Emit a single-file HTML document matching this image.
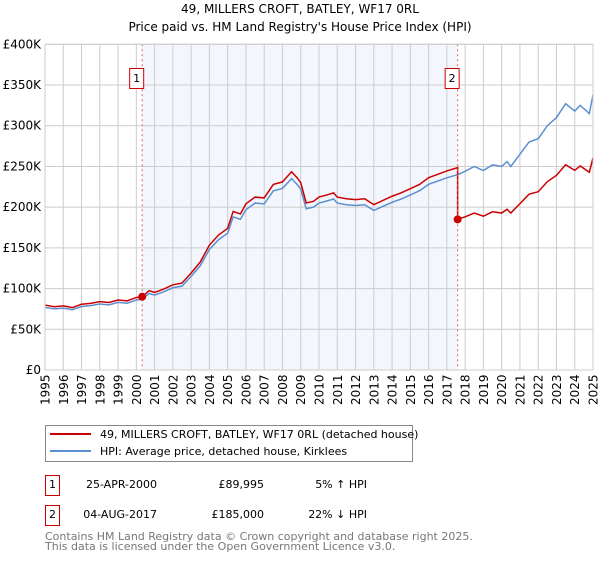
<!DOCTYPE html>
<html><head><meta charset="utf-8"><style>
body{margin:0;background:#fff;width:600px;height:560px;overflow:hidden}
text{font-family:"DejaVu Sans","Liberation Sans",sans-serif}
</style></head><body>
<svg id="chart" width="600" height="560" xmlns="http://www.w3.org/2000/svg">
<text x="300" y="13" text-anchor="middle" font-size="12">49, MILLERS CROFT, BATLEY, WF17 0RL</text>
<text x="300" y="31" text-anchor="middle" font-size="12">Price paid vs. HM Land Registry's House Price Index (HPI)</text>
<g id="plot"></g>
<g>
<rect x="45.5" y="425.5" width="367" height="36" fill="#fff" stroke="#888"/>
<line x1="50" y1="434" x2="91" y2="434" stroke="#cc0000" stroke-width="2"/>
<text x="100" y="438" font-size="11">49, MILLERS CROFT, BATLEY, WF17 0RL (detached house)</text>
<line x1="50" y1="451" x2="91" y2="451" stroke="#5b8fd0" stroke-width="2"/>
<text x="100" y="455" font-size="11">HPI: Average price, detached house, Kirklees</text>
</g>
<g font-size="11">
<rect x="45.5" y="475.5" width="14" height="20" fill="#fff" stroke="#cc0000"/>
<text x="52.5" y="488" text-anchor="middle">1</text>
<text x="157" y="488" text-anchor="end">25-APR-2000</text>
<text x="264" y="488" text-anchor="end">£89,995</text>
<text x="367" y="488" text-anchor="end">5% ↑ HPI</text>
<rect x="45.5" y="505.5" width="14" height="20" fill="#fff" stroke="#cc0000"/>
<text x="52.5" y="518" text-anchor="middle">2</text>
<text x="157" y="518" text-anchor="end">04-AUG-2017</text>
<text x="264" y="518" text-anchor="end">£185,000</text>
<text x="367" y="518" text-anchor="end">22% ↓ HPI</text>
</g>
<text x="45" y="540" font-size="11" fill="#777">Contains HM Land Registry data © Crown copyright and database right 2025.</text>
<text x="45" y="550" font-size="11" fill="#777">This data is licensed under the Open Government Licence v3.0.</text>
</svg>
<script>
const yTicks=[0,50000,100000,150000,200000,250000,300000,350000,400000];
const yTickLabels=["£0","£50K","£100K","£150K","£200K","£250K","£300K","£350K","£400K"];
const xYears=[1995,1996,1997,1998,1999,2000,2001,2002,2003,2004,2005,2006,2007,2008,2009,2010,2011,2012,2013,2014,2015,2016,2017,2018,2019,2020,2021,2022,2023,2024,2025];
const hpiDates=[1995,1995.5,1996,1996.5,1997,1997.5,1998,1998.5,1999,1999.5,2000,2000.3,2000.7,2001,2001.5,2002,2002.5,2003,2003.5,2004,2004.5,2005,2005.3,2005.7,2006,2006.5,2007,2007.5,2008,2008.5,2008.8,2009,2009.3,2009.7,2010,2010.5,2010.8,2011,2011.5,2012,2012.5,2013,2013.2,2013.6,2014,2014.5,2015,2015.5,2016,2016.5,2017,2017.6,2018,2018.5,2019,2019.5,2020,2020.3,2020.5,2021,2021.5,2022,2022.5,2023,2023.5,2024,2024.3,2024.8,2025];
const hpiValues=[77000,75000,76000,74000,78000,79000,81000,80000,83000,82000,86000,86500,94000,92000,96000,101000,103000,115000,128000,148000,160000,168000,188000,185000,197000,205000,204000,220000,223000,235000,228000,222000,198000,200000,205000,208000,210000,205000,203000,202000,203000,196000,198000,202000,206000,210000,215000,220000,228000,232000,236000,240000,244000,250000,245000,252000,250000,256000,250000,265000,280000,284000,300000,310000,327000,318000,325000,315000,338000,342000];
const saleDates=[2000.32,2017.59];
const salePrices=[89995,185000];
const X0=45,X1=593,Y0=370,Y1=44.3;
const x=d=>X0+(d-1995)/(2025-1995)*(X1-X0);
const y=v=>Y0-v/400000*(Y0-Y1);
const NS="http://www.w3.org/2000/svg";
const plot=document.getElementById('plot');
function mk(tag,attrs){const e=document.createElementNS(NS,tag);for(const k in attrs)e.setAttribute(k,attrs[k]);plot.appendChild(e);return e;}
let e=mk('rect',{x:x(saleDates[0]),y:Y1,width:x(saleDates[1])-x(saleDates[0]),height:Y0-Y1,fill:'#eef3fc',opacity:0.7});


xYears.forEach((yr,i)=>{
 let g=mk('line',{x1:x(yr),x2:x(yr),y1:Y1,y2:Y0,stroke:'#ccc','stroke-width':1});
 
 
 let t=mk('text',{transform:`translate(${x(yr)+4.5},${Y0+35}) rotate(-90)`,'font-size':12});
 t.textContent=yr;
 
 
});
yTicks.forEach((v,i)=>{
 let g=mk('line',{x1:X0,x2:X1,y1:y(v),y2:y(v),stroke:'#ccc','stroke-width':1});
 
 
 let t=mk('text',{x:X0-4,y:y(v)+4,'text-anchor':'end','font-size':12});
 t.textContent=yTickLabels[i];
 
 
});
function hpiAt(d){for(let i=1;i<hpiDates.length;i++){if(d<=hpiDates[i]){const f=(d-hpiDates[i-1])/(hpiDates[i]-hpiDates[i-1]);return hpiValues[i-1]+f*(hpiValues[i]-hpiValues[i-1]);}}return hpiValues[hpiValues.length-1];}
const r0=salePrices[0]/hpiAt(saleDates[0]),r1=salePrices[1]/hpiAt(saleDates[1]);
let bp=hpiDates.map((d,i)=>`${x(d)},${y(hpiValues[i])}`).join(' ');
let blue=mk('polyline',{points:bp,fill:'none',stroke:'#5b8fd0','stroke-width':1.5});


let rp=[];
hpiDates.forEach((d,i)=>{if(d<saleDates[1])rp.push([d,hpiValues[i]*r0]);});
rp.push([saleDates[1],hpiAt(saleDates[1])*r0]);
rp.push([saleDates[1],salePrices[1]]);
hpiDates.forEach((d,i)=>{if(d>saleDates[1])rp.push([d,hpiValues[i]*r1]);});
let red=mk('polyline',{points:rp.map(p=>`${x(p[0])},${y(p[1])}`).join(' '),fill:'none',stroke:'#cc0000','stroke-width':1.5});


saleDates.forEach((d,i)=>{
 let l=mk('line',{x1:x(d),x2:x(d),y1:Y1,y2:Y0,stroke:'#e06060','stroke-dasharray':'2,3','stroke-width':1});
 
 
 let c=mk('circle',{cx:x(d),cy:y(salePrices[i]),r:4,fill:'#cc0000'});
 
 
 let b=mk('rect',{x:x(d)-12.5,y:68.5,width:14,height:20,fill:'#fff',stroke:'#cc0000'});
 
 
 let t=mk('text',{x:x(d)-5.5,y:82,'text-anchor':'middle','font-size':11});
 t.textContent=String(i+1);
 
 
});
let fr=mk('rect',{x:X0,y:Y1,width:X1-X0,height:Y0-Y1,fill:'none',stroke:'#ccc'});


</script>
</body></html>
